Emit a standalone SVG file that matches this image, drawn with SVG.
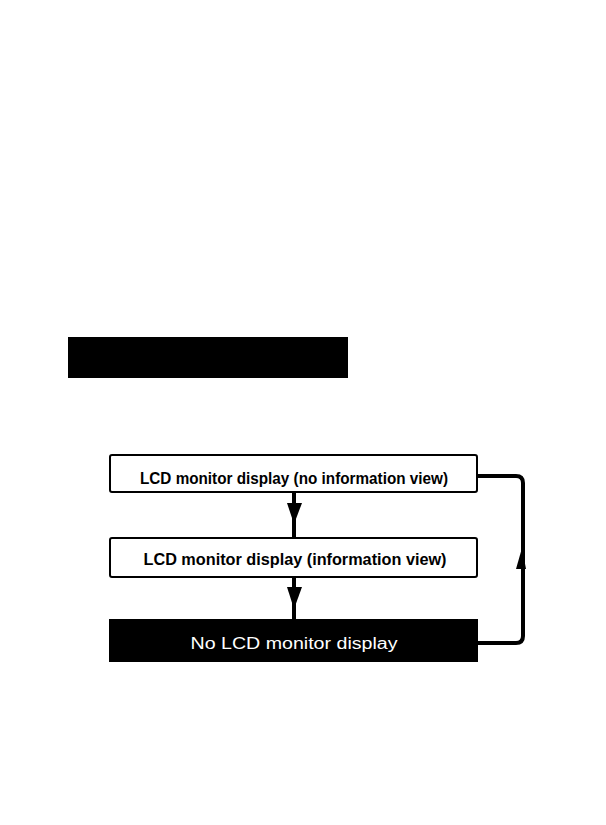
<svg xmlns="http://www.w3.org/2000/svg" width="606" height="825" viewBox="0 0 606 825">
<style>
.box{fill:#fff;stroke:#000;stroke-width:2}
.dark{fill:#000;stroke:#000;stroke-width:2}
.t{font-family:"Liberation Sans",Arial,sans-serif;font-size:16px;font-weight:bold;text-anchor:middle}
.w{fill:#fff;font-weight:normal}
.ln{fill:none;stroke:#000;stroke-width:4}
</style>
<rect x="68" y="337" width="280" height="41" fill="#000"/>
<g id="connectors">
<line class="ln" x1="294" y1="492" x2="294" y2="537"/>
<path d="M287,503 L302,503 L294,524 Z" fill="#000"/>
<line class="ln" x1="294" y1="577" x2="294" y2="619"/>
<path d="M287,587 L302,587 L294,609 Z" fill="#000"/>
<path class="ln" d="M478,476 L516,476 Q523,476 523,483 L523,636 Q523,643 516,643 L478,643"/>
<path d="M516,569 L526,569 L522,548 Z" fill="#000"/>
</g>
<g id="n1">
<rect class="box" x="110" y="455" width="367" height="37" rx="2"/>
<text class="t" x="294" y="484" textLength="308" lengthAdjust="spacingAndGlyphs">LCD monitor display (no information view)</text>
</g>
<g id="n2">
<rect class="box" x="110" y="538" width="367" height="39" rx="2"/>
<text class="t" x="295" y="565" textLength="303" lengthAdjust="spacingAndGlyphs">LCD monitor display (information view)</text>
</g>
<g id="n3">
<rect class="dark" x="110" y="620" width="367" height="41"/>
<text class="t w" x="294" y="649" textLength="207" lengthAdjust="spacingAndGlyphs">No LCD monitor display</text>
</g>
</svg>
